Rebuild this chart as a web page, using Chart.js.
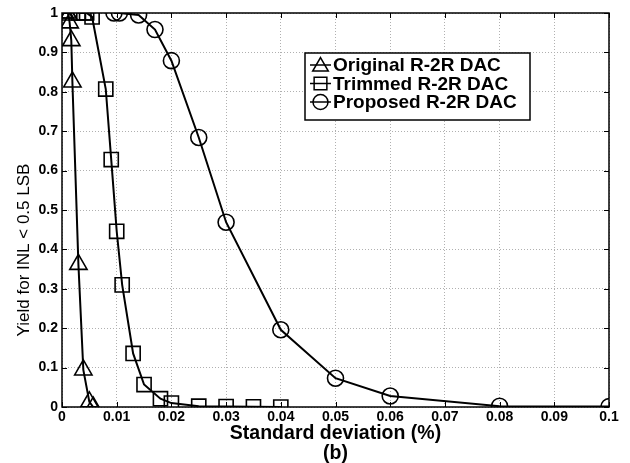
<!DOCTYPE html>
<html><head><meta charset="utf-8">
<script src="https://cdn.jsdelivr.net/npm/chart.js@4"></script>
<style>html,body{margin:0;padding:0;background:#fff}#wrap{width:630px;height:463px;position:relative}</style>
</head><body><div id="wrap"><canvas id="c" width="630" height="463"></canvas></div>
<script>
const xTicks = [0,0.01,0.02,0.03,0.04,0.05,0.06,0.07,0.08,0.09,0.1];
const xTickLabels = ['0','0.01','0.02','0.03','0.04','0.05','0.06','0.07','0.08','0.09','0.1'];
const yTickLabels = ['0','0.1','0.2','0.3','0.4','0.5','0.6','0.7','0.8','0.9','1'];
const seriesNames = ['Original R-2R DAC','Trimmed R-2R DAC','Proposed R-2R DAC'];
const xTitle = 'Standard deviation (%)';
const subTitle = '(b)';
const yTitle = 'Yield for INL < 0.5 LSB';
const origX = [0.0005,0.001,0.0012,0.0014,0.0017,0.0019,0.003,0.0039,0.005,0.0057];
const origY = [1,1,0.995,0.975,0.93,0.825,0.362,0.094,0.013,0.0];
const trimX = [0.003,0.004,0.0045,0.0055,0.008,0.009,0.01,0.011,0.013,0.015,0.0180,0.020,0.025,0.03,0.035,0.04];
const trimY = [1,1,1,0.99,0.807,0.628,0.446,0.31,0.136,0.057,0.021,0.01,0.002,0.001,0.0005,0];
const propX = [0.0095,0.0105,0.014,0.017,0.02,0.025,0.03,0.04,0.05,0.06,0.08,0.1];
const propY = [1,1,0.995,0.958,0.879,0.684,0.469,0.196,0.073,0.028,0.002,0.001];
const FONT = "'Liberation Sans', Arial, sans-serif";
const pts = (xs, ys) => xs.map((x,i)=>({x, y: ys[i]}));
const styles = ['triangle','rect','circle'];
const radii = [10,10,8];

const frame = {
  id:'frame',
  afterDraw(chart){
    const {ctx, chartArea:a, scales} = chart;
    ctx.save();
    ctx.strokeStyle='#000'; ctx.lineWidth=1.5;
    ctx.strokeRect(a.left, a.top, a.right-a.left, a.bottom-a.top);
    ctx.lineWidth=1;
    ctx.beginPath();
    xTicks.forEach(v=>{const p=Math.round(scales.x.getPixelForValue(v))+0.5;
      ctx.moveTo(p,a.bottom); ctx.lineTo(p,a.bottom-5); ctx.moveTo(p,a.top); ctx.lineTo(p,a.top+5);});
    yTickLabels.forEach(t=>{const p=Math.round(scales.y.getPixelForValue(parseFloat(t)))+0.5;
      ctx.moveTo(a.left,p); ctx.lineTo(a.left+5,p); ctx.moveTo(a.right,p); ctx.lineTo(a.right-5,p);});
    ctx.stroke();
    // y title
    ctx.save();
    ctx.translate(24, 250); ctx.rotate(-Math.PI/2);
    ctx.font = "17px "+FONT; ctx.fillStyle='#000'; ctx.textAlign='center'; ctx.textBaseline='middle';
    ctx.fillText(yTitle, 0, 0);
    ctx.restore();
    // legend
    const lx=305, ly=53, lw=225, lh=67;
    ctx.fillStyle='#fff'; ctx.fillRect(lx,ly,lw,lh);
    ctx.lineWidth=1.5; ctx.strokeStyle='#000'; ctx.strokeRect(lx,ly,lw,lh);
    ctx.font = "bold 19px "+FONT; ctx.textBaseline='middle'; ctx.textAlign='left';
    seriesNames.forEach((n,i)=>{
      const y = 65 + i*18.5;
      ctx.lineWidth=1.5; ctx.strokeStyle='#000';
      ctx.beginPath(); ctx.moveTo(310,y); ctx.lineTo(331,y); ctx.stroke();
      ctx.fillStyle='rgba(0,0,0,0)';
      Chart.helpers.drawPoint(ctx,{pointStyle:styles[i], radius:[9,9,7.5][i], borderWidth:1.5}, 320.5, i===0?y+1.5:y);
      ctx.fillStyle='#000';
      ctx.fillText(n, 333, y+1);
    });
    ctx.restore();
  }
};

const ds = [[origX,origY],[trimX,trimY],[propX,propY]].map((d,i)=>({
  label: seriesNames[i], data: pts(d[0],d[1]), showLine:true,
  borderColor:'#000', backgroundColor:'rgba(0,0,0,0)', borderWidth:2,
  pointStyle: styles[i], pointRadius: radii[i], pointBorderWidth:1.6,
  pointBorderColor:'#000', pointBackgroundColor:'rgba(0,0,0,0)', tension:0
}));

new Chart(document.getElementById('c'), {
  type:'scatter',
  data:{datasets:ds},
  options:{
    responsive:false, animation:false, devicePixelRatio:1,
    layout:{padding:{left:0,right:21,top:13,bottom:0}},
    plugins:{legend:{display:false}, tooltip:{enabled:false}},
    scales:{
      x:{type:'linear', min:0, max:0.1,
        afterBuildTicks(s){ s.ticks = xTicks.map(v=>({value:v})); },
        afterFit(s){ s.height = 56; },
        ticks:{color:'#000', font:{family:FONT, size:14, weight:'bold'}, padding:2, maxRotation:0,
          callback:(v,i)=>xTickLabels[i]},
        grid:{color:'#b0b0b0', lineWidth:1, drawTicks:false, tickLength:0},
        border:{display:false, dash:[1,2]},
        title:{display:true, text:[xTitle, subTitle], color:'#000',
          font:{family:FONT, size:19.5, weight:'bold', lineHeight:1.0}, padding:{top:0,bottom:0}}
      },
      y:{type:'linear', min:0, max:1,
        afterBuildTicks(s){ s.ticks = yTickLabels.map(t=>({value:parseFloat(t)})); },
        afterFit(s){ s.width = 62; },
        ticks:{color:'#000', font:{family:FONT, size:14, weight:'bold'}, padding:4,
          callback:(v,i)=>yTickLabels[i]},
        grid:{color:'#b0b0b0', lineWidth:1, drawTicks:false, tickLength:0},
        border:{display:false, dash:[1,2]},
        title:{display:false}
      }
    }
  },
  plugins:[frame]
});
</script></body></html>
